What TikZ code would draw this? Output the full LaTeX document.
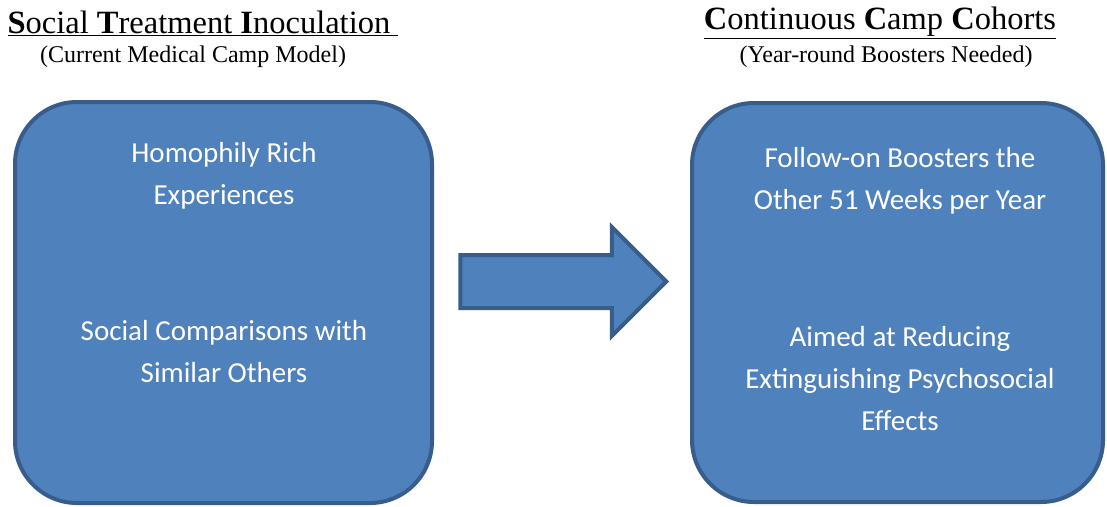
\documentclass[tikz,border=0pt]{standalone}
\usepackage{fontspec}
\setmainfont{Liberation Serif}
\newfontfamily\boxfont{Carlito}
\usetikzlibrary{shapes.arrows}
\definecolor{boxfill}{HTML}{4F81BD}
\definecolor{boxline}{HTML}{385D8A}
\tikzset{
    base/.style={draw=boxline, fill=boxfill, line width=4pt, rectangle, rounded corners=62pt},
    blockarrow/.style={draw=boxline, fill=boxfill, line width=4pt, single arrow, single arrow head extend=28pt, minimum height=206pt, minimum width=109pt, inner xsep=0pt, inner ysep=24.5pt},
    boxtext/.style={text=white, align=center, font=\boxfont\fontsize{29}{42}\selectfont},
    title/.style={font=\fontsize{32.5}{36}\selectfont, inner sep=0pt},
    subtitle/.style={font=\fontsize{24}{26}\selectfont, inner sep=0pt}
}
\begin{document}
\begin{tikzpicture}[x=1pt, y=-1pt]
\useasboundingbox (0,0) rectangle (1107,506);
% titles
\node[title] (ttl1) at (203,23) {\underline{\textbf{S}ocial \textbf{T}reatment \textbf{I}noculation\ }};
\node[subtitle] (sub1) at (193,57) {(Current Medical Camp Model)};
\node[title] (ttl2) at (880,23) {\underline{\textbf{C}ontinuous \textbf{C}amp \textbf{C}ohorts}};
\node[subtitle] (sub2) at (886,57) {(Year-round Boosters Needed)};
% boxes
\node[base, minimum width=417pt, minimum height=401pt] (stibox) at (223.5,302.5) {};
\node[base, minimum width=411pt, minimum height=399pt] (cccbox) at (897.5,302.5) {};
\node[blockarrow] (arr) at (550,281.5) {};
% box texts
\node[boxtext] (homo) at (224,176) {Homophily Rich\\Experiences};
\node[boxtext] (comp) at (224,352) {Social Comparisons with\\Similar Others};
\node[boxtext] (boost) at (900,181) {Follow-on Boosters the\\Other 51 Weeks per Year};
\node[boxtext] (aim) at (900,379) {Aimed at Reducing\\Extinguishing Psychosocial\\Effects};
\end{tikzpicture}
\end{document}
